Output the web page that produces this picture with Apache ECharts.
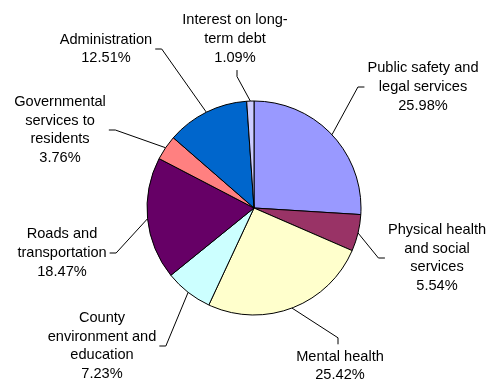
<!DOCTYPE html>
<html>
<head>
<meta charset="utf-8">
<script src="https://cdn.jsdelivr.net/npm/echarts@6/dist/echarts.min.js"></script>
<style>
html,body{margin:0;padding:0;background:#fff;}
#chart{width:493px;height:384px;}
</style>
</head>
<body>
<div id="chart"></div>
<script>
// ---- data ----
const categories = [
  'Public safety and\nlegal services',
  'Physical health\nand social\nservices',
  'Mental health',
  'County\nenvironment and\neducation',
  'Roads and\ntransportation',
  'Governmental\nservices to\nresidents',
  'Administration',
  'Interest on long-\nterm debt'
];
const shares = [25.98, 5.54, 25.42, 7.23, 18.47, 3.76, 12.51, 1.09];

// ---- style / layout ----
const palette = ['#9999FF', '#993366', '#FFFFCC', '#CCFFFF', '#660066', '#FF8080', '#0066CC', '#CCCCFF'];
const labelSpots = [
  { x: 423, y: 87, side: 'left' },
  { x: 437, y: 258, side: 'left' },
  { x: 340, y: 366, side: 'top', dx: -2 },
  { x: 102, y: 346, side: 'right' },
  { x: 62, y: 253, side: 'right' },
  { x: 60, y: 130, side: 'right' },
  { x: 106, y: 49, side: 'right' },
  { x: 235, y: 39, side: 'bottom', dx: 2 }
];

const chart = echarts.init(document.getElementById('chart'), null, { renderer: 'canvas' });
chart.setOption({
  animation: false,
  backgroundColor: '#ffffff',
  series: [{
    type: 'pie',
    center: [254, 208],
    radius: 107,
    startAngle: 90,
    clockwise: true,
    avoidLabelOverlap: false,
    data: categories.map((c, i) => ({ name: c, value: shares[i], itemStyle: { color: palette[i] } })),
    itemStyle: { borderColor: '#000', borderWidth: 1 },
    label: {
      show: true,
      position: 'outside',
      formatter: p => p.name + '\n' + p.value.toFixed(2) + '%',
      fontFamily: 'Liberation Sans, Arial, sans-serif',
      fontSize: 14.6,
      lineHeight: 18.7,
      color: '#000',
      align: 'center'
    },
    labelLine: { show: true, length: 10, length2: 10, lineStyle: { color: '#000', width: 1 } },
    emphasis: { disabled: true },
    labelLayout: function (p) {
      const L = labelSpots[p.dataIndex];
      const w = p.labelRect.width, h = p.labelRect.height;
      const edge = p.labelLinePoints ? p.labelLinePoints[0] : [254, 208];
      const gap = 3, seg = 6.5, dx = L.dx || 0;
      let attach, bend;
      if (L.side === 'left') { attach = [L.x - w / 2 - gap, L.y]; bend = [attach[0] - seg, L.y]; }
      else if (L.side === 'right') { attach = [L.x + w / 2 + gap, L.y]; bend = [attach[0] + seg, L.y]; }
      else if (L.side === 'top') { attach = [L.x + dx, L.y - h / 2 - gap]; bend = [attach[0], attach[1] - seg]; }
      else { attach = [L.x + dx, L.y + h / 2 + gap]; bend = [attach[0], attach[1] + seg]; }
      return { x: L.x, y: L.y, align: 'center', verticalAlign: 'middle', labelLinePoints: [edge, bend, attach] };
    }
  }]
});
</script>
</body>
</html>
